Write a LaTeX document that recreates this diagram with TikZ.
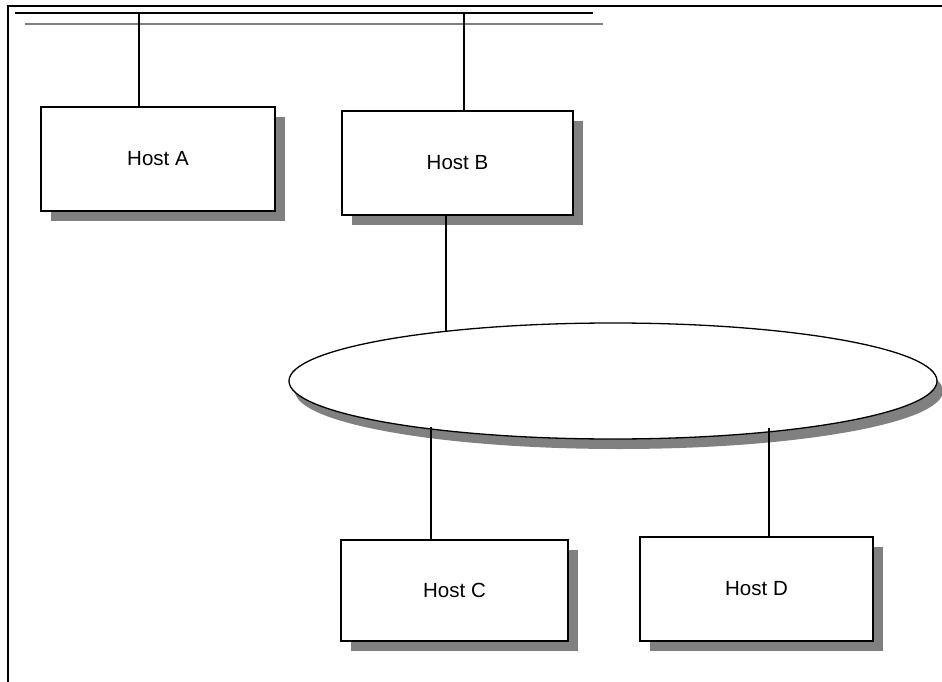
\documentclass[tikz,border=0pt]{standalone}
\usepackage{fontspec}
\setmainfont{Liberation Sans}
\usetikzlibrary{shadows,shapes.geometric}
\definecolor{shadowgray}{HTML}{808080}
\begin{document}
\begin{tikzpicture}[x=1pt,y=-1pt,
  hostbox/.style={draw=black, line width=1.3pt, fill=white, rectangle, inner sep=0pt,
    font=\fontsize{20.5}{24}\selectfont,
    general shadow={fill=shadowgray, shadow xshift=10pt, shadow yshift=-10pt}},
  netcloud/.style={draw=black, line width=1.3pt, fill=white, ellipse, inner sep=0pt,
    general shadow={fill=shadowgray, shadow xshift=6pt, shadow yshift=-10pt}},
  link/.style={draw=black, line width=1.1pt}]
\useasboundingbox (0,0) rectangle (942,682);
% frame
\draw[line width=1.1pt] (8,682) -- (8,6) -- (942,6);
% bus lines
\draw[line width=1.4pt] (15,13) -- (593,13);
\draw[line width=1.4pt, shadowgray] (25,24) -- (603,24);
% hosts
\node[hostbox, minimum width=234pt, minimum height=104pt] (hostA) at (158,159) {Host A};
\node[hostbox, minimum width=231pt, minimum height=104pt] (hostB) at (457.5,163) {Host B};
\node[hostbox, minimum width=227pt, minimum height=101pt] (hostC) at (454.5,590.5) {Host C};
\node[hostbox, minimum width=233pt, minimum height=104pt] (hostD) at (756.5,589) {Host D};
\node[netcloud, minimum width=648pt, minimum height=116pt] (net) at (613,381) {};
% bus taps
\coordinate (busA) at (139,13);
\coordinate (busB) at (464,13);
\coordinate (netTop) at (446,332);
\coordinate (netC) at (431,427);
\coordinate (netD) at (769,428);
\draw[link] (busA) -- (busA |- hostA.north);
\draw[link] (busB) -- (busB |- hostB.north);
\draw[link] (netTop |- hostB.south) -- (netTop);
\draw[link] (netC) -- (netC |- hostC.north);
\draw[link] (netD) -- (netD |- hostD.north);
\end{tikzpicture}
\end{document}
